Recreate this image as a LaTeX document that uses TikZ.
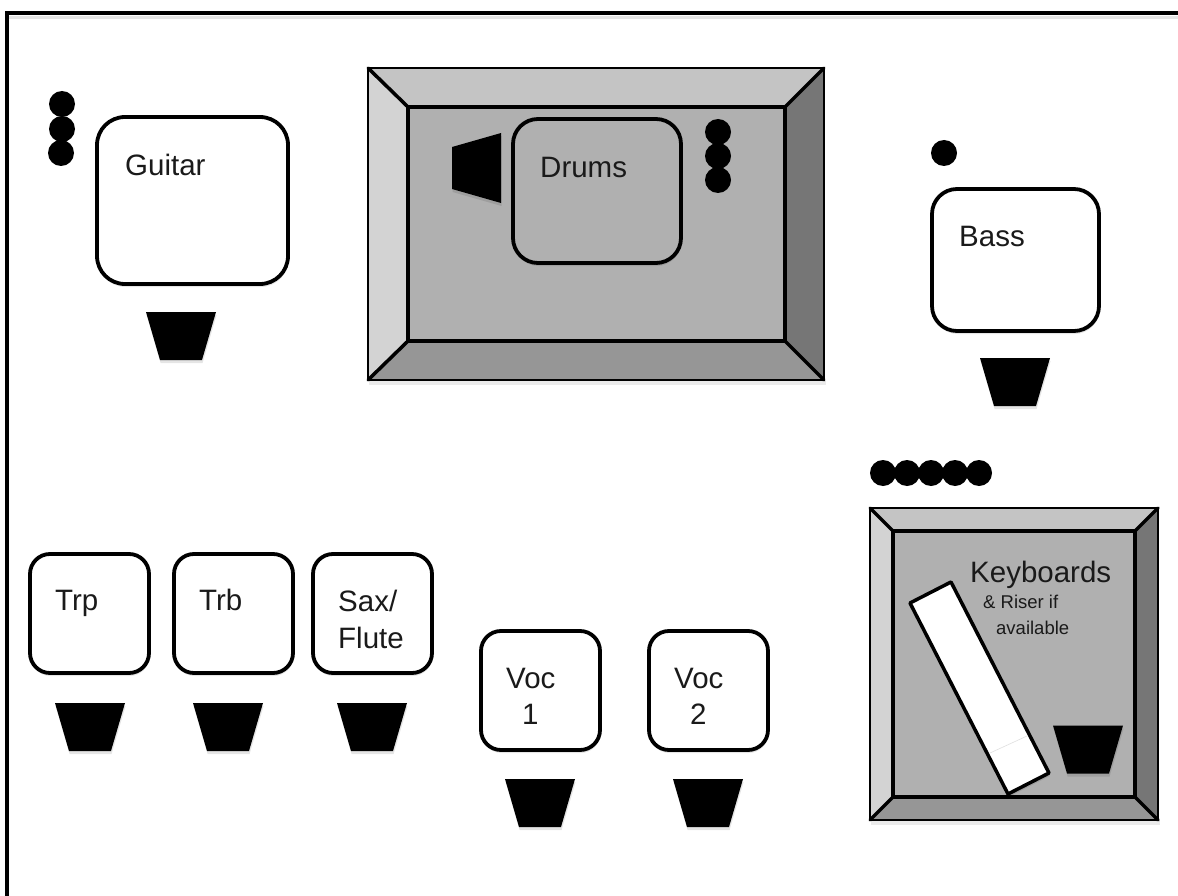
\documentclass[tikz,border=0pt]{standalone}
\usepackage{fontspec}
\setmainfont{Liberation Sans}
\usetikzlibrary{shadows}
\definecolor{bevtop}{HTML}{C4C4C4}
\definecolor{bevleft}{HTML}{D3D3D3}
\definecolor{bevright}{HTML}{767676}
\definecolor{bevbot}{HTML}{969696}
\definecolor{bevmid}{HTML}{B0B0B0}
\definecolor{inktext}{HTML}{1A1A1A}
\tikzset{
  softshadow/.style={general shadow={shadow xshift=0.6pt,shadow yshift=-3pt,fill=black,opacity=.10}},
  player/.style={draw=black,line width=3.8pt,fill=white,rounded corners=#1,softshadow},
  player/.default=20pt,
  speaker/.style={fill=black,softshadow},
  micdot/.style={fill=black},
  bevel/.style={draw=black,line width=2.2pt,line join=round},
  bevelline/.style={draw=black,line width=3.5pt,line cap=round},
  textlabel/.style={anchor=base west,inner sep=0pt,text=inktext,font=\fontsize{29.5}{34}\selectfont},
  smalllabel/.style={anchor=base west,inner sep=0pt,text=inktext,font=\fontsize{18.5}{22}\selectfont},
}
\newcommand{\wedgeat}[2]{\path[speaker] (#1,#2) -- ++(70,0) -- ++(-14,48) -- ++(-42,0) -- cycle;}
\newcommand{\risebox}[8]{%
  \path[fill=bevtop] (#1,#2) -- (#3,#2) -- (#7,#6) -- (#5,#6) -- cycle;
  \path[fill=bevleft] (#1,#2) -- (#5,#6) -- (#5,#8) -- (#1,#4) -- cycle;
  \path[fill=bevright] (#3,#2) -- (#3,#4) -- (#7,#8) -- (#7,#6) -- cycle;
  \path[fill=bevbot] (#1,#4) -- (#5,#8) -- (#7,#8) -- (#3,#4) -- cycle;
  \path[fill=bevmid] (#5,#6) rectangle (#7,#8);
  \draw[bevelline] (#1,#2) -- (#5,#6) (#3,#2) -- (#7,#6) (#1,#4) -- (#5,#8) (#3,#4) -- (#7,#8);
  \draw[bevelline] (#5,#6) rectangle (#7,#8);
  \draw[bevel] (#1,#2) rectangle (#3,#4);
}
\begin{document}
\begin{tikzpicture}[x=1pt,y=-1pt]
\useasboundingbox (0,0) rectangle (1178,896);
\fill[white] (0,0) rectangle (1178,896);
% stage frame
\path[fill=black,opacity=.10] (9,16) rectangle (1178,19);
\draw[black,line width=4pt] (7,900) -- (7,13.5) -- (1182,13.5);

% drum riser
\path[fill=black,opacity=.08] (369,381) rectangle (826,385);
\risebox{368}{68}{824}{380}{408}{107}{785}{341}
\draw[player=25pt,fill=bevmid] (513,119) rectangle (681,263);
\node[textlabel] (drums) at (540,178) {Drums};
\path[speaker] (501,133) -- (501,203) -- (452,189) -- (452,147) -- cycle;
\foreach \cy in {132,156,180} \fill[micdot] (718,\cy) circle (13);

% keyboard riser
\path[fill=black,opacity=.08] (871,821) rectangle (1160,825);
\risebox{870}{508}{1158}{820}{893}{531}{1135}{797}
\draw[draw=black,line width=3.5pt,fill=white,line join=round,softshadow] (951,582) -- (910,603) -- (1008,794) -- (1049,773) -- cycle;
\draw[black!12,line width=.6pt] (990,753) -- (1027,736);
\wedgeat{1053}{725.5}
\node[textlabel] (keys) at (970,582) {Keyboards};
\node[smalllabel] (riser) at (983,608) {\& Riser if};
\node[smalllabel] (avail) at (996,634) {available};
\foreach \cx in {883,907,931,955,979} \fill[micdot] (\cx,473) circle (13);

% guitar
\foreach \cx/\cy in {62/104,62/129,61/153} \fill[micdot] (\cx,\cy) circle (13);
\draw[player=28pt] (97,117) rectangle (288,284);
\node[textlabel] (guitar) at (125,176) {Guitar};
\wedgeat{146}{312}

% bass
\fill[micdot] (944,153) circle (13);
\draw[player=25pt] (932,189) rectangle (1099,331);
\node[textlabel] (bass) at (959,247) {Bass};
\wedgeat{980}{358}

% horns
\draw[player=20pt] (30,554) rectangle (149,673);
\node[textlabel] (trp) at (55,610) {Trp};
\wedgeat{55}{703}
\draw[player=20pt] (174,554) rectangle (293,673);
\node[textlabel] (trb) at (199,610) {Trb};
\wedgeat{193}{703}
\draw[player=20pt] (313,554) rectangle (432,673);
\node[textlabel] (sax) at (338,611) {Sax/};
\node[textlabel] (flute) at (338,648) {Flute};
\wedgeat{337}{703}

% vocals
\draw[player=20pt] (481,631) rectangle (600,750);
\node[textlabel] (voca) at (506,688) {Voc};
\node[textlabel] (vocan) at (522,724) {1};
\wedgeat{505}{779}
\draw[player=20pt] (649,631) rectangle (768,750);
\node[textlabel] (vocb) at (674,688) {Voc};
\node[textlabel] (vocbn) at (690,724) {2};
\wedgeat{673}{779}
\end{tikzpicture}
\end{document}
